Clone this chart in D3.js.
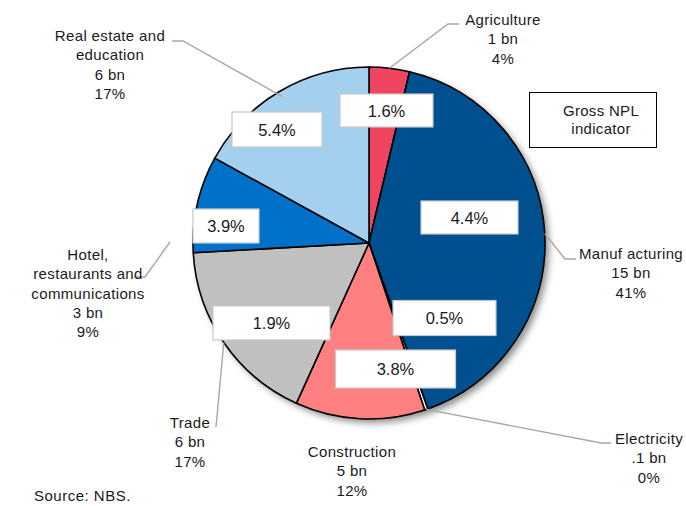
<!DOCTYPE html>
<html><head><meta charset="utf-8">
<script src="https://cdn.jsdelivr.net/npm/d3@7"></script>
<style>
html,body{margin:0;padding:0;background:#fff;}
svg{display:block;font-family:"Liberation Sans",Arial,sans-serif;}
</style></head>
<body>
<svg id="chart" width="686" height="506"></svg>
<script>
// ---- data ----
const categories = ["Agriculture","Manuf acturing","Electricity","Construction","Trade","Hotel, restaurants and communications","Real estate and education"];
const nameLines = [["Agriculture"],["Manuf acturing"],["Electricity"],["Construction"],["Trade"],["Hotel,","restaurants and","communications"],["Real estate and","education"]];
const bnLabels = ["1 bn","15 bn",".1 bn","5 bn","6 bn","3 bn","6 bn"];
const pctLabels = ["4%","41%","0%","12%","17%","9%","17%"];
const shares = [3.7, 40.9, 0.3, 11.9, 17.35, 8.9, 17.0];
const nplLabels = ["1.6%","4.4%","0.5%","3.8%","1.9%","3.9%","5.4%"];
const colors = ["#EF4560","#00508F","#FFFFFF","#FF8080","#C0C0C0","#0070C8","#A3D0EE"];

// ---- layout (positions only) ----
const cx = 369, cy = 243, R = 176;
const labelLayout = [
  {x:503, y:25,  leader:[[448,24],[459,24]]},
  {x:631, y:259, leader:[[565,259],[576,259]]},
  {x:649, y:444, leader:[[601,443],[611,443]]},
  {x:352, y:457, leader:null},
  {x:190, y:428, leader:[[216,427]]},
  {x:88,  y:260, leader:[[145,277],[134,277]], start:[170,242]},
  {x:110, y:41,  leader:[[183,41],[172,41]], anchorR:170}
];
const nplLayout = [
  {x:386.5, y:110.5, w:93,  h:33},
  {x:469.5, y:217.5, w:97,  h:33},
  {x:444.5, y:318,   w:103, h:35},
  {x:395.5, y:369,   w:120, h:38},
  {x:271.5, y:323,   w:117, h:34},
  {x:226,   y:226,   w:66,  h:34},
  {x:277,   y:129.5, w:90,  h:35}
];

const svg = d3.select("#chart");
const defs = svg.append("defs");
const f = defs.append("filter").attr("id","shadow").attr("x","-20%").attr("y","-20%").attr("width","140%").attr("height","140%");
f.append("feDropShadow").attr("dx",4).attr("dy",4).attr("stdDeviation",3.5)
 .attr("flood-color","#000").attr("flood-opacity",0.45);

const pie = d3.pie().sort(null).value(d => d)(shares);
const arc = d3.arc().innerRadius(0).outerRadius(R);

const g = svg.append("g").attr("transform",`translate(${cx},${cy})`);
g.append("circle").attr("r",R).attr("fill","#fff").attr("filter","url(#shadow)");
g.selectAll("path.slice").data(pie).join("path")
  .attr("class","slice")
  .attr("d",arc)
  .attr("fill",(d,i)=>colors[i])
  .attr("stroke","#000").attr("stroke-width",1.6).attr("stroke-linejoin","round");

// leader lines
const leaderG = svg.append("g");
pie.forEach((d,i)=>{
  const L = labelLayout[i];
  if(!L.leader) return;
  const a = (d.startAngle+d.endAngle)/2;
  const r = L.anchorR || R;
  const start = L.start ? L.start : [cx + r*Math.sin(a), cy - r*Math.cos(a)];
  leaderG.append("path")
    .attr("d", d3.line()([start, ...L.leader]))
    .attr("fill","none").attr("stroke","#A6A6A6").attr("stroke-width",1.4);
});

// category labels
const lblG = svg.append("g").attr("font-size",15).attr("letter-spacing",0.35)
  .attr("fill","#1a1a1a").attr("text-anchor","middle");
categories.forEach((c,i)=>{
  const L = labelLayout[i];
  const lines = [...nameLines[i], bnLabels[i], pctLabels[i]];
  const t = lblG.append("text").attr("x",L.x).attr("y",L.y);
  lines.forEach((ln,k)=>{
    t.append("tspan").attr("x",L.x).attr("dy",k===0?0:19.3).text(ln);
  });
});

// NPL boxes
const nplG = svg.append("g");
nplLabels.forEach((v,i)=>{
  const b = nplLayout[i];
  nplG.append("rect").attr("x",b.x-b.w/2).attr("y",b.y-b.h/2).attr("width",b.w).attr("height",b.h)
    .attr("fill","#fff").attr("stroke","#C8C8C8").attr("stroke-width",1.2);
  nplG.append("text").attr("x",b.x).attr("y",b.y+6).attr("text-anchor","middle")
    .attr("font-size",16.5).attr("fill","#1a1a1a").text(v);
});

// legend box
svg.append("rect").attr("x",529.5).attr("y",92.5).attr("width",127).attr("height",55)
  .attr("fill","#fff").attr("stroke","#000").attr("stroke-width",1);
const lt = svg.append("text").attr("text-anchor","middle").attr("font-size",15)
  .attr("letter-spacing",0.3).attr("fill","#1a1a1a");
lt.append("tspan").attr("x",601).attr("y",116).text("Gross NPL");
lt.append("tspan").attr("x",601).attr("y",134).text("indicator");

// source
svg.append("text").attr("x",34).attr("y",501).attr("font-size",15).attr("letter-spacing",0.5)
  .attr("fill","#1a1a1a").text("Source: NBS.");
</script>
</body></html>
